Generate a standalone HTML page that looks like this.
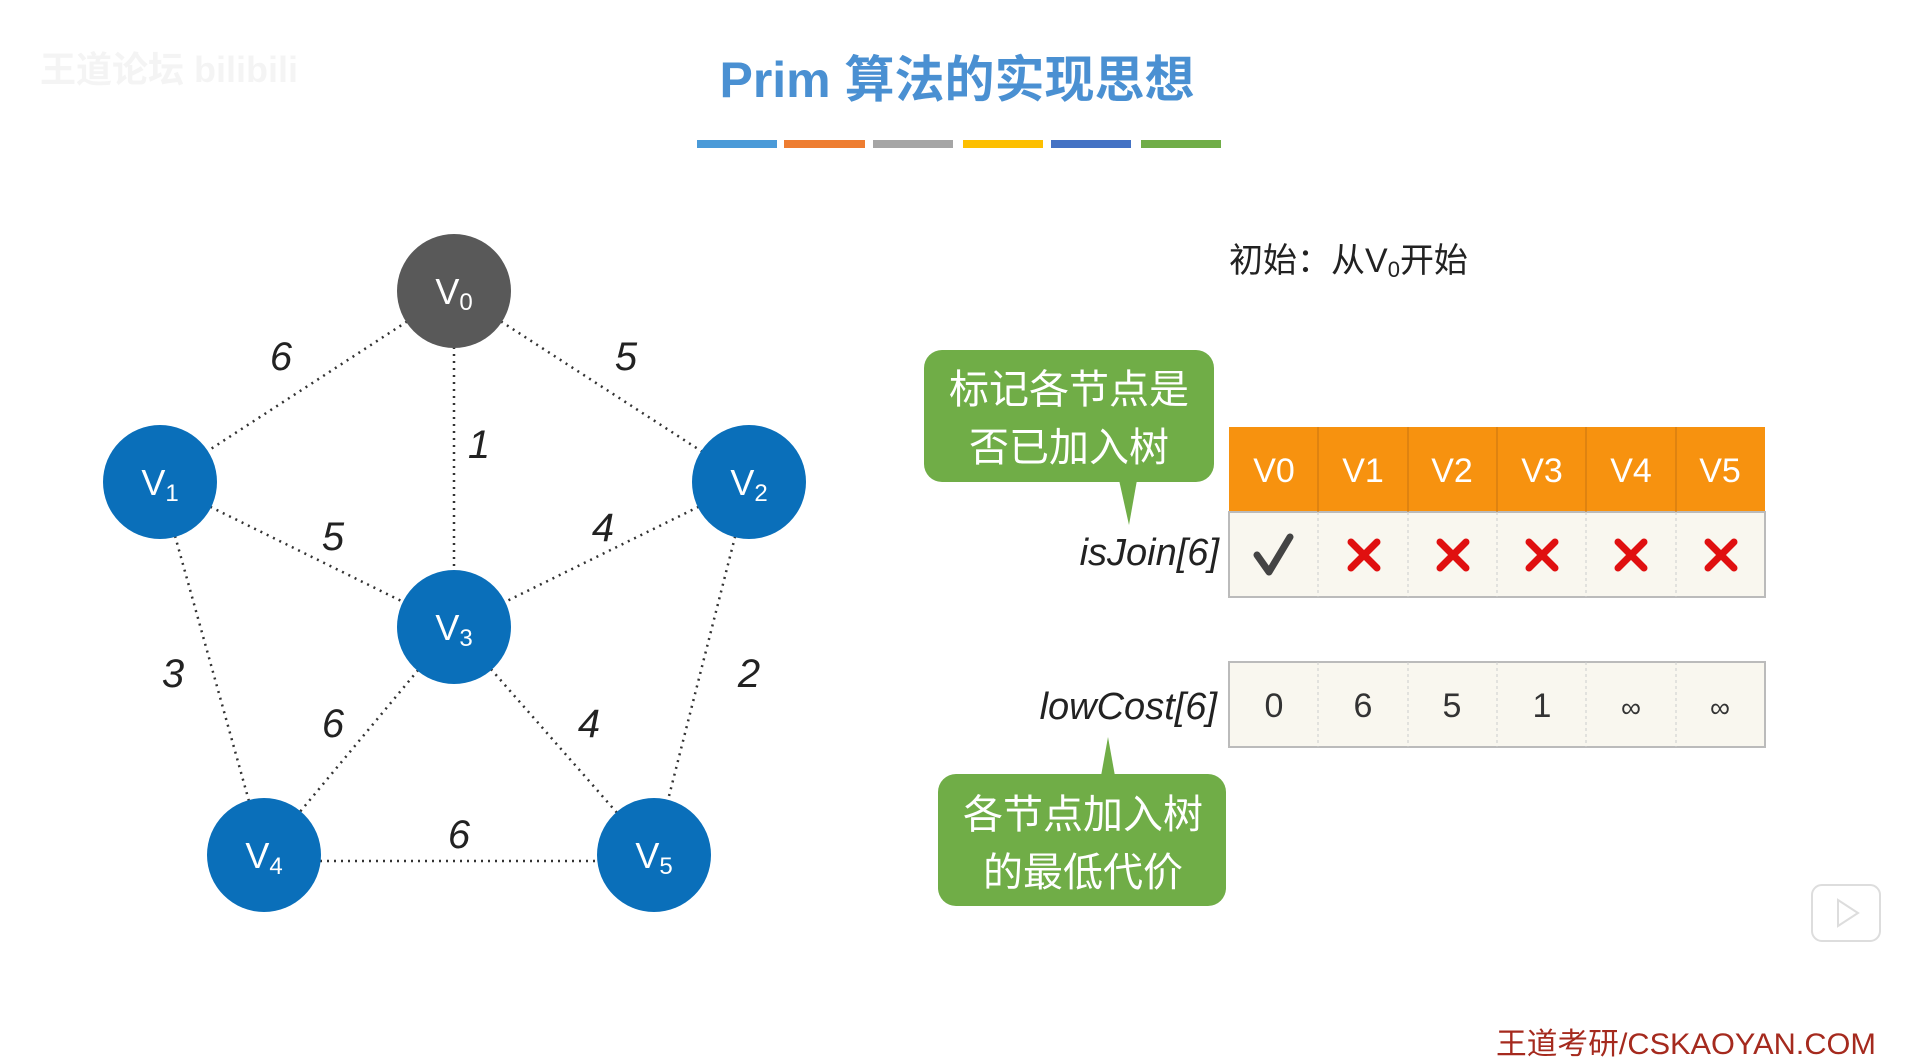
<!DOCTYPE html>
<html><head><meta charset="utf-8"><style>
html,body{margin:0;padding:0;background:#fff;}
svg{display:block;}
text{font-family:"Liberation Sans","Noto Sans CJK SC",sans-serif;}
</style></head><body>
<svg width="1905" height="1064" viewBox="0 0 1905 1064" xmlns="http://www.w3.org/2000/svg">
<rect width="1905" height="1064" fill="#fff"/>
<text x="40" y="82" font-size="36" fill="#f4f4f4" font-weight="bold">王道论坛 bilibili</text>
<text x="957" y="97" font-size="50" fill="#4a90d2" font-weight="bold" text-anchor="middle">Prim 算法的实现思想</text>
<rect x="697" y="140" width="80" height="8" fill="#4a9ad8"/>
<rect x="784" y="140" width="81" height="8" fill="#ee7d31"/>
<rect x="873" y="140" width="80" height="8" fill="#a5a5a5"/>
<rect x="963" y="140" width="80" height="8" fill="#fdbf00"/>
<rect x="1051" y="140" width="80" height="8" fill="#4472c4"/>
<rect x="1141" y="140" width="80" height="8" fill="#70ad47"/>
<g stroke="#333" stroke-width="2.5" stroke-dasharray="2,5" fill="none">
<line x1="454" y1="291" x2="160" y2="482"/>
<line x1="454" y1="291" x2="749" y2="482"/>
<line x1="454" y1="291" x2="454" y2="627"/>
<line x1="160" y1="482" x2="454" y2="627"/>
<line x1="749" y1="482" x2="454" y2="627"/>
<line x1="160" y1="482" x2="264" y2="855"/>
<line x1="749" y1="482" x2="654" y2="855"/>
<line x1="454" y1="627" x2="264" y2="855"/>
<line x1="454" y1="627" x2="654" y2="855"/>
<line x1="264" y1="861" x2="654" y2="861"/>
</g>
<g font-size="40" font-style="italic" fill="#222" text-anchor="middle">
<text x="281" y="370">6</text>
<text x="626" y="370">5</text>
<text x="479" y="458">1</text>
<text x="333" y="550">5</text>
<text x="603" y="541">4</text>
<text x="173" y="687">3</text>
<text x="749" y="687">2</text>
<text x="333" y="737">6</text>
<text x="589" y="737">4</text>
<text x="459" y="848">6</text>
</g>
<g font-size="36" fill="#fff" text-anchor="middle">
<circle cx="454" cy="291" r="57" fill="#595959"/>
<text x="454" y="304">V<tspan font-size="24" dy="6">0</tspan></text>
<circle cx="160" cy="482" r="57" fill="#0a6fba"/>
<text x="160" y="495">V<tspan font-size="24" dy="6">1</tspan></text>
<circle cx="749" cy="482" r="57" fill="#0a6fba"/>
<text x="749" y="495">V<tspan font-size="24" dy="6">2</tspan></text>
<circle cx="454" cy="627" r="57" fill="#0a6fba"/>
<text x="454" y="640">V<tspan font-size="24" dy="6">3</tspan></text>
<circle cx="264" cy="855" r="57" fill="#0a6fba"/>
<text x="264" y="868">V<tspan font-size="24" dy="6">4</tspan></text>
<circle cx="654" cy="855" r="57" fill="#0a6fba"/>
<text x="654" y="868">V<tspan font-size="24" dy="6">5</tspan></text>
</g>
<text x="1229" y="272" font-size="34" fill="#222">初始：从V<tspan font-size="22" dy="5">0</tspan><tspan dy="-5">开始</tspan></text>
<rect x="924" y="350" width="290" height="132" rx="18" fill="#70ad47"/>
<polygon points="1119,480 1137,480 1129,525" fill="#70ad47"/>
<g font-size="40" fill="#fff" text-anchor="middle">
<text x="1069" y="403">标记各节点是</text>
<text x="1069" y="461">否已加入树</text>
</g>
<rect x="938" y="774" width="288" height="132" rx="18" fill="#70ad47"/>
<polygon points="1101,776 1115,776 1108,737" fill="#70ad47"/>
<g font-size="40" fill="#fff" text-anchor="middle">
<text x="1083" y="828">各节点加入树</text>
<text x="1083" y="886">的最低代价</text>
</g>
<text x="1219" y="565" font-size="38" font-style="italic" fill="#222" text-anchor="end">isJoin[6]</text>
<text x="1217" y="719" font-size="38" font-style="italic" fill="#222" text-anchor="end">lowCost[6]</text>
<g transform="translate(-3,0)">
<rect x="1232" y="427" width="536" height="85" fill="#f7920f"/>
<rect x="1232" y="512" width="536" height="85" fill="#f9f7ef" stroke="#bbb" stroke-width="2"/>
<rect x="1232" y="662" width="536" height="85" fill="#f9f7ef" stroke="#bbb" stroke-width="2"/>
<g stroke="#c77410" stroke-width="1">
<line x1="1321" y1="427" x2="1321" y2="512"/><line x1="1411" y1="427" x2="1411" y2="512"/><line x1="1500" y1="427" x2="1500" y2="512"/><line x1="1589" y1="427" x2="1589" y2="512"/><line x1="1679" y1="427" x2="1679" y2="512"/>
</g>
<g stroke="#ccc" stroke-width="1" stroke-dasharray="3,3">
<line x1="1321" y1="512" x2="1321" y2="597"/><line x1="1411" y1="512" x2="1411" y2="597"/><line x1="1500" y1="512" x2="1500" y2="597"/><line x1="1589" y1="512" x2="1589" y2="597"/><line x1="1679" y1="512" x2="1679" y2="597"/>
<line x1="1321" y1="662" x2="1321" y2="747"/><line x1="1411" y1="662" x2="1411" y2="747"/><line x1="1500" y1="662" x2="1500" y2="747"/><line x1="1589" y1="662" x2="1589" y2="747"/><line x1="1679" y1="662" x2="1679" y2="747"/>
</g>
<g font-size="34" fill="#fff" text-anchor="middle">
<text x="1277" y="482">V0</text><text x="1366" y="482">V1</text><text x="1455" y="482">V2</text><text x="1545" y="482">V3</text><text x="1634" y="482">V4</text><text x="1723" y="482">V5</text>
</g>
<path d="M1260,555 L1272,572 L1293,537" stroke="#444" stroke-width="7" fill="none" stroke-linecap="round" stroke-linejoin="round"/>
<g stroke="#e01010" stroke-width="7" stroke-linecap="round">
<path d="M1354,542 L1380,568 M1380,542 L1354,568"/>
<path d="M1443,542 L1469,568 M1469,542 L1443,568"/>
<path d="M1532,542 L1558,568 M1558,542 L1532,568"/>
<path d="M1621,542 L1647,568 M1647,542 L1621,568"/>
<path d="M1711,542 L1737,568 M1737,542 L1711,568"/>
</g>
<g font-size="34" fill="#333" text-anchor="middle">
<text x="1277" y="717">0</text><text x="1366" y="717">6</text><text x="1455" y="717">5</text><text x="1545" y="717">1</text><text x="1634" y="717" font-size="28">∞</text><text x="1723" y="717" font-size="28">∞</text>
</g>
</g>
<rect x="1812" y="885" width="68" height="56" rx="10" fill="#fff" stroke="#ddd" stroke-width="2"/>
<polygon points="1838,900 1838,926 1858,913" fill="none" stroke="#ddd" stroke-width="2"/>
<text x="1876" y="1054" font-size="30" fill="#a52a1e" text-anchor="end" textLength="380" lengthAdjust="spacingAndGlyphs">王道考研/CSKAOYAN.COM</text>
</svg>
</body></html>
